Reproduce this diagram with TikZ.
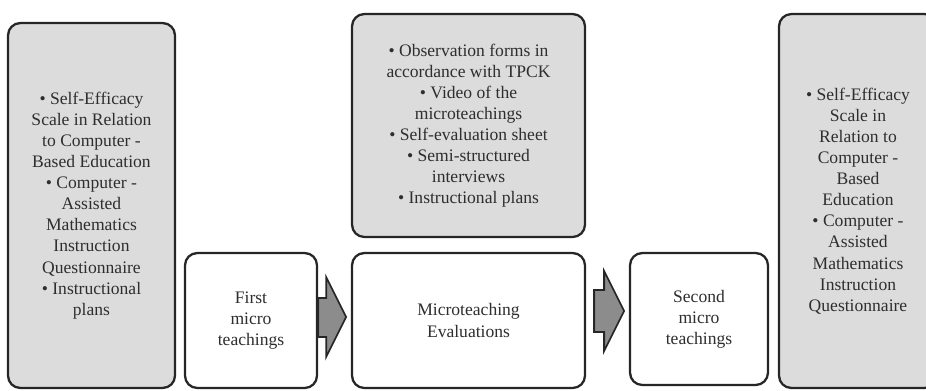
\documentclass[tikz,border=0pt]{standalone}
\usepackage{fontspec}
\setmainfont{Liberation Serif}
\definecolor{boxgrey}{HTML}{DCDCDC}
\definecolor{boxline}{HTML}{262626}
\definecolor{arrowgrey}{HTML}{8C8C8C}
\definecolor{textgrey}{HTML}{2E2E2E}
\tikzset{
    line cap=round,line join=round,
    every node/.append style={text=textgrey, align=center, font=\fontsize{10}{12}\selectfont},
    info box/.style={draw=boxline, line width=1.3pt, rounded corners=7pt, fill=boxgrey, inner sep=0pt},
    stage box/.style={draw=boxline, line width=1.3pt, rounded corners=7pt, fill=white, inner sep=0pt},
    block arrow/.style={draw=boxline, line width=1pt, fill=arrowgrey},
}

\begin{document}
\begin{tikzpicture}[x=0.02cm,y=-0.02cm]
    \path[use as bounding box, clip] (0,0) rectangle (926,390);

    \node[info box, minimum width=3.34cm, minimum height=7.3cm] (pretools) at (91.5,205.5)
    {\textbullet{} Self-Efficacy\\Scale in Relation\\to Computer -\\Based Education\\\textbullet{} Computer -\\Assisted\\Mathematics\\Instruction\\Questionnaire\\\textbullet{} Instructional\\plans};

    \node[stage box, minimum width=2.64cm, minimum height=2.7cm] (first) at (251,320.5)
    {First\\micro\\teachings};

    \node[info box, minimum width=4.66cm, minimum height=4.46cm] (evaltools) at (468.5,125.5)
    {\textbullet{} Observation forms in\\accordance with TPCK\\\textbullet{} Video of the\\microteachings\\\textbullet{} Self-evaluation sheet\\\textbullet{} Semi-structured\\interviews\\\textbullet{} Instructional plans};

    \node[stage box, minimum width=4.66cm, minimum height=2.7cm] (eval) at (468.5,320.5)
    {Microteaching\\Evaluations};

    \node[stage box, minimum width=2.76cm, minimum height=2.64cm] (second) at (699,319)
    {Second\\micro\\teachings};

    \node[info box, minimum width=3.16cm, minimum height=7.48cm] (posttools) at (858,201)
    {\textbullet{} Self-Efficacy\\Scale in\\Relation to\\Computer -\\Based\\Education\\\textbullet{} Computer -\\Assisted\\Mathematics\\Instruction\\Questionnaire};

    \draw[block arrow] ([shift={(0,-22.5)}]first.east) -- ++(8,0) -- ++(0,-21) -- ++(20,40)
        -- ++(-20,40) -- ++(0,-20) -- ++(-8,0) -- cycle;
    \draw[block arrow] ([shift={(8,-30.5)}]eval.east) -- ++(10,0) -- ++(0,-19) -- ++(20,40)
        -- ++(-20,40) -- ++(0,-19) -- ++(-10,0) -- cycle;
\end{tikzpicture}
\end{document}
